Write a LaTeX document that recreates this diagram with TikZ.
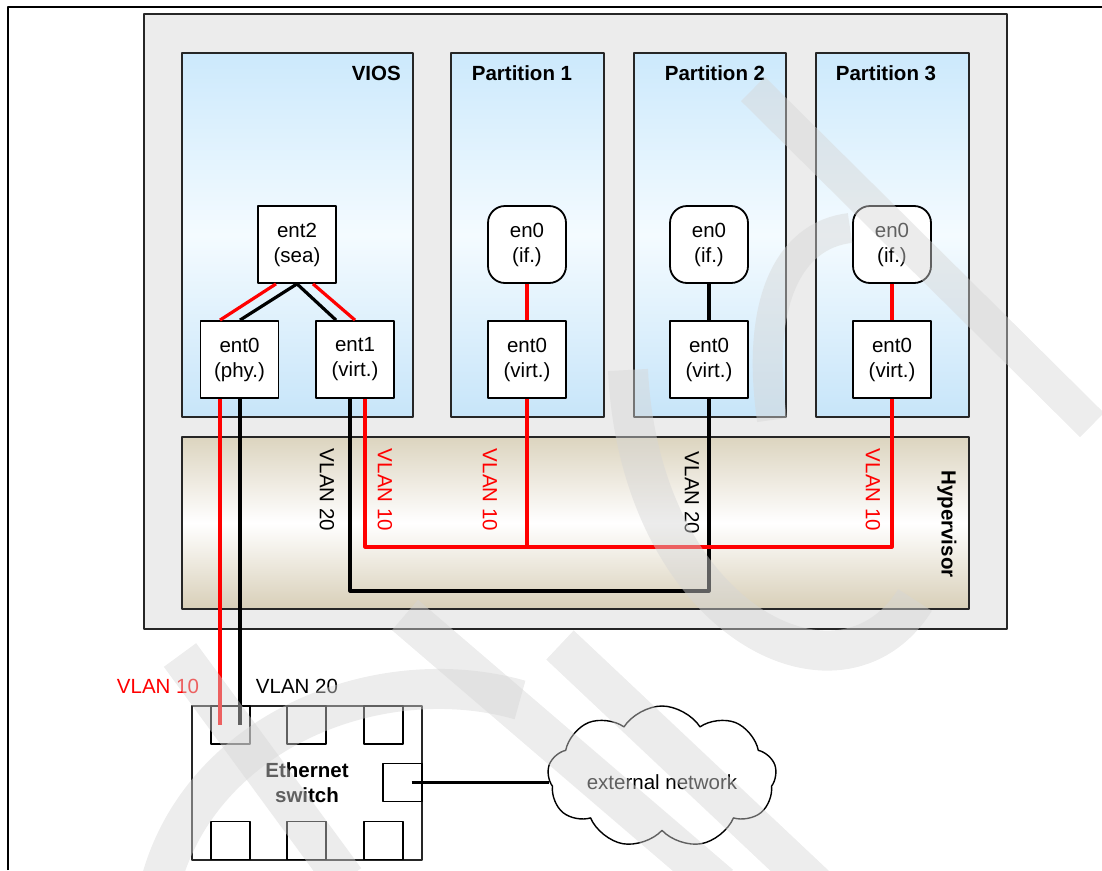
\documentclass[tikz,border=0pt]{standalone}
\usepackage{fontspec}
\setmainfont{Liberation Sans}
\usetikzlibrary{shapes.symbols}
\definecolor{vred}{HTML}{FF0000}
\definecolor{boxgray}{HTML}{ECECEC}
\definecolor{parttop}{HTML}{CCE9FC}
\definecolor{partmid}{HTML}{F4FBFF}
\definecolor{partbot}{HTML}{C7E5F9}
\definecolor{hyptop}{HTML}{DCD4BF}
\definecolor{hypmid}{HTML}{FFFFFF}
\definecolor{hypbot}{HTML}{D8CFB8}
\begin{document}
\begin{tikzpicture}[x=1pt, y=-1pt, font=\fontsize{20.5}{25}\selectfont, line join=round]
	\tikzset{
		part/.style={draw=black!85, line width=1.8pt, minimum height=364pt, inner sep=0pt, top color=parttop, bottom color=partbot, middle color=partmid},
		title/.style={font=\fontsize{20.5}{25}\selectfont\bfseries, inner sep=0pt},
		dev/.style={draw, line width=1.8pt, fill=white, minimum width=78pt, minimum height=77pt, align=center, inner sep=0pt},
		ifc/.style={dev, rounded corners=17pt},
		port/.style={draw, line width=1.8pt, fill=white, minimum width=39pt, minimum height=38pt, inner sep=0pt},
		vten/.style={draw=vred, line width=3.2pt},
		vtwenty/.style={draw=black, line width=3.2pt},
		vlabel/.style={rotate=-90, inner sep=0pt},
		wm/.style={line width=40pt, draw=black!16, draw opacity=0.45}
	}
	\useasboundingbox (0,0) rectangle (1102,870);
	\draw[line width=1.2pt] (8,870) -- (8,7) -- (1102,7);
	% server frame and hypervisor
	\node[draw=black!85, line width=1.8pt, fill=boxgray, minimum width=863pt, minimum height=615pt] (server) at (575.5,321.5) {};
	\node[draw=black!85, line width=1.8pt, minimum width=787pt, minimum height=172pt, top color=hyptop, bottom color=hypbot, middle color=hypmid] (hyp) at (575.5,523) {};
	% partitions
	\node[part, minimum width=231pt] (vios) at (297.5,235) {};
	\node[part, minimum width=153pt] (part1) at (527.5,235) {};
	\node[part, minimum width=152pt] (part2) at (710,235) {};
	\node[part, minimum width=153pt] (part3) at (892.5,235) {};
	\node[title, anchor=base east] at (401,80) {VIOS};
	\node[title, anchor=base] at (522,80) {Partition 1};
	\node[title, anchor=base] at (715,80) {Partition 2};
	\node[title, anchor=base] at (886,80) {Partition 3};
	% adapters
	\node[dev] (ent2) at (297,244.5) {ent2\\(sea)};
	\node[dev] (phy) at (239.5,359.5) {ent0\\(phy.)};
	\node[dev] (virt) at (355,359.5) {ent1\\(virt.)};
	\foreach \n/\x in {1/527,2/709,3/892}{
		\node[ifc] (if\n) at (\x,244.5) {en0\\(if.)};
		\node[dev] (ve\n) at (\x,359.5) {ent0\\(virt.)};
	}
	% switch
	\node[draw=black!85, line width=1.8pt, fill=white, minimum width=230pt, minimum height=154pt, align=center, font=\fontsize{20.5}{25}\selectfont\bfseries] (sw) at (307,783) {Ethernet\\switch};
	\foreach \i/\x in {1/230.5,2/306.5,3/383.5}{
		\node[port] (top\i) at (\x,725) {};
		\node[port] (bot\i) at (\x,840.5) {};
	}
	\node[port] (swr) at (402.5,782.5) {};
	\node[cloud, cloud puffs=9, cloud puff arc=115, aspect=1.6, draw, line width=1.4pt, fill=white, inner sep=0pt, minimum width=229pt, minimum height=142pt] (net) at (662,777) {};
	\node at (662,782) {external network};
	% wires
	\draw[vten] ([xshift=-21pt]ent2.south) -- ([xshift=-19.5pt]phy.north);
	\draw[vtwenty] (ent2.south) -- ([xshift=0.5pt]phy.north);
	\draw[vtwenty] (ent2.south) -- ([xshift=-19pt]virt.north);
	\draw[vten] ([xshift=16pt]ent2.south) -- (virt.north);
	\coordinate (phyten) at ([xshift=-19.5pt]phy.south);
	\coordinate (phytwenty) at ([xshift=0.5pt]phy.south);
	\draw[vten] (phyten) -- (phyten |- top1.center);
	\draw[vtwenty] (phytwenty) -- (phytwenty |- top1.center);
	\coordinate (virtten) at ([xshift=10pt]virt.south);
	\coordinate (virttwenty) at ([xshift=-5pt]virt.south);
	\coordinate (busten) at (0,547);
	\coordinate (bustwenty) at (0,591);
	\draw[vtwenty] (virttwenty) -- (virttwenty |- bustwenty) -| (ve2.south);
	\draw[vten] (virtten) -- (virtten |- busten) -| (ve3.south);
	\draw[vten] (ve1.south) -- (ve1.south |- busten);
	\draw[vten] (if1) -- (ve1);
	\draw[vtwenty] (if2) -- (ve2);
	\draw[vten] (if3) -- (ve3);
	\coordinate (netin) at (549,782.5);
	\draw[line width=2.4pt] ([xshift=9pt]swr.center) -- (netin);
	% labels
	\node[vlabel] at (327,490) {VLAN 20};
	\node[vlabel, text=vred] at (385,490) {VLAN 10};
	\node[vlabel, text=vred] at (490,490) {VLAN 10};
	\node[vlabel] at (692,493) {VLAN 20};
	\node[vlabel, text=vred] at (873,490) {VLAN 10};
	\node[vlabel, font=\fontsize{20.5}{25}\selectfont\bfseries] at (947,524) {Hypervisor};
	\node[text=vred] at (158,686) {VLAN 10};
	\node at (297,686) {VLAN 20};
	% watermark
	\draw[wm, line width=34pt] (753,89) -- (1092,425);
	\draw[wm, line width=30pt] (772,420) .. controls (755,300) and (790,235) .. (850,228);
	\draw[wm] (628,370) .. controls (640,620) and (840,720) .. (915,600);
	\draw[wm] (180,655) -- (345,880);
	\draw[wm] (405,615) -- (720,885);
	\draw[wm] (560,645) -- (820,890);
	\draw[wm] (160,885) .. controls (200,730) and (380,660) .. (520,700);
\end{tikzpicture}
\end{document}
